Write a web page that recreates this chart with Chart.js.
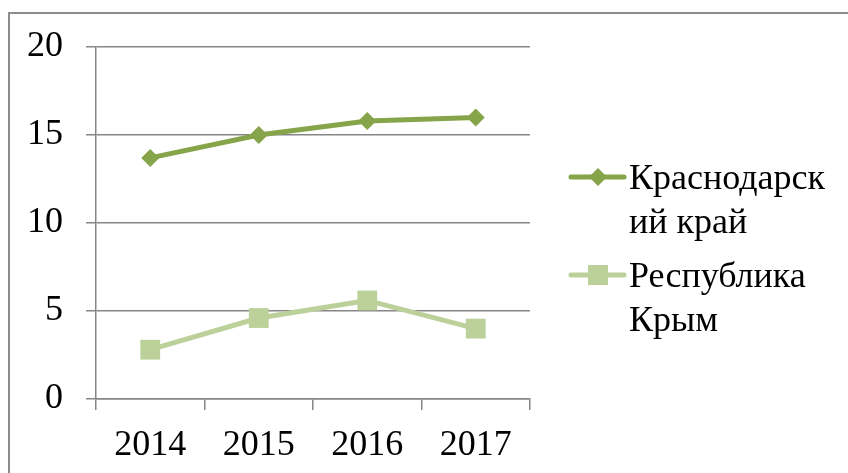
<!DOCTYPE html>
<html>
<head>
<meta charset="utf-8">
<script src="https://cdn.jsdelivr.net/npm/chart.js@4.4.0/dist/chart.umd.min.js"></script>
<style>
    html, body { margin: 0; padding: 0; background: #fff; overflow: hidden; }
    #wrap { position: relative; width: 848px; height: 473px; }
    #frame { position: absolute; left: 8px; top: 12px; width: 900px; height: 500px;
             border: 2px solid #8c8c8c; box-sizing: border-box; }
    #chart { position: absolute; left: 0; top: 0; }
</style>
</head>
<body>
<div id="wrap">
    <div id="frame"></div>
    <canvas id="chart" width="848" height="473"></canvas>
</div>
<script>
// --- data ---
var years = ['2014', '2015', '2016', '2017'];
var krasnodar = [13.7, 15.0, 15.8, 16.0];
var crimea = [2.8, 4.6, 5.6, 4.0];
var seriesNames = [['Краснодарск', 'ий край'], ['Республика', 'Крым']];
var yTicks = [0, 5, 10, 15, 20];

var darkGreen = '#86a44a';
var lightGreen = '#bcd19a';
var gridGrey = '#868686';
var serif = 'Liberation Serif';

// legend on the right, with wrapped names
var sideLegend = {
    id: 'sideLegend',
    afterDraw: function (chart) {
        var ctx = chart.ctx;
        ctx.save();
        ctx.font = '36px ' + serif;
        ctx.textBaseline = 'alphabetic';
        chart.data.datasets.forEach(function (ds, i) {
            var cy = 177 + i * 98;
            // line sample
            ctx.strokeStyle = ds.borderColor;
            ctx.lineWidth = 5;
            ctx.lineCap = 'round';
            ctx.beginPath();
            ctx.moveTo(571, cy);
            ctx.lineTo(624, cy);
            ctx.stroke();
            // marker
            ctx.fillStyle = ds.pointBackgroundColor;
            ctx.beginPath();
            if (ds.pointStyle === 'rectRot') {
                ctx.moveTo(598, cy - 9);
                ctx.lineTo(607, cy);
                ctx.lineTo(598, cy + 9);
                ctx.lineTo(589, cy);
            } else {
                ctx.rect(588, cy - 10, 20, 20);
            }
            ctx.closePath();
            ctx.fill();
            // text
            ctx.fillStyle = '#000';
            seriesNames[i].forEach(function (line, j) {
                ctx.fillText(line, 629, cy + 12 + j * 44);
            });
        });
        ctx.restore();
    }
};

var ctx = document.getElementById('chart').getContext('2d');
new Chart(ctx, {
    type: 'line',
    data: {
        labels: years,
        datasets: [{
            label: seriesNames[0].join(''),
            data: krasnodar,
            borderColor: darkGreen,
            backgroundColor: darkGreen,
            pointBackgroundColor: darkGreen,
            pointBorderWidth: 0,
            pointStyle: 'rectRot',
            pointRadius: 9,
            borderWidth: 5,
            tension: 0
        }, {
            label: seriesNames[1].join(''),
            data: crimea,
            borderColor: lightGreen,
            backgroundColor: lightGreen,
            pointBackgroundColor: lightGreen,
            pointBorderWidth: 0,
            pointStyle: 'rect',
            pointRadius: 14,
            borderWidth: 5,
            tension: 0
        }]
    },
    options: {
        responsive: false,
        animation: false,
        devicePixelRatio: 1,
        layout: { padding: { left: 0, top: 47, right: 318, bottom: 0 } },
        plugins: {
            legend: { display: false },
            tooltip: { enabled: false }
        },
        scales: {
            x: {
                offset: true,
                grid: { offset: true, drawOnChartArea: false, drawTicks: true, tickLength: 11,
                        color: gridGrey, lineWidth: 1.5 },
                border: { display: true, color: gridGrey, width: 1.5 },
                ticks: { color: '#000', font: { family: serif, size: 36 }, padding: 14, maxRotation: 0 },
                afterFit: function (s) { s.height = 74; }
            },
            y: {
                min: yTicks[0],
                max: yTicks[yTicks.length - 1],
                ticks: { stepSize: yTicks[1] - yTicks[0], color: '#000',
                         font: { family: serif, size: 36 }, padding: 23 },
                grid: { color: gridGrey, lineWidth: 1.5, tickLength: 10, drawTicks: true },
                border: { display: true, color: gridGrey, width: 1.5 },
                afterFit: function (s) { s.width = 96; }
            }
        }
    },
    plugins: [sideLegend]
});
</script>
</body>
</html>
